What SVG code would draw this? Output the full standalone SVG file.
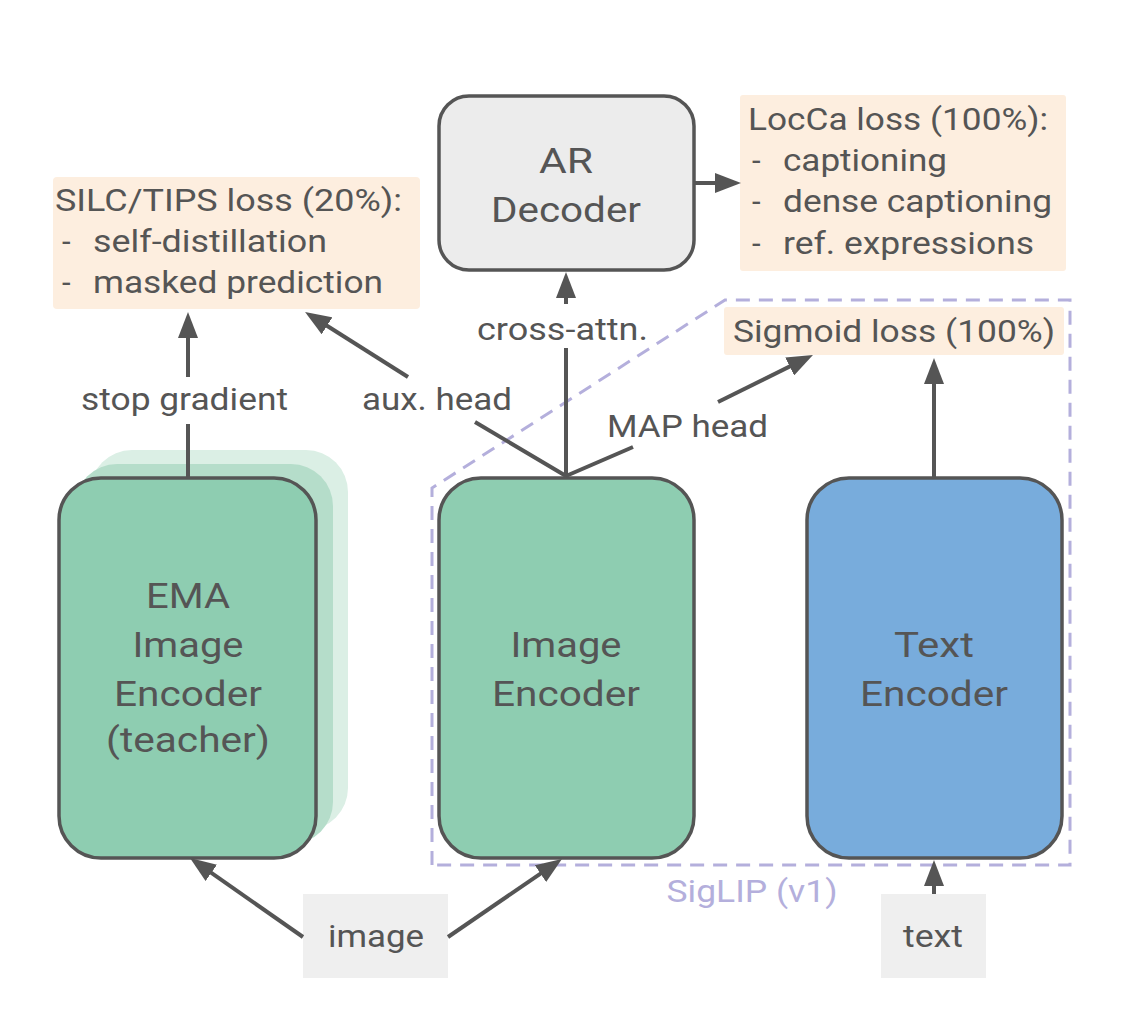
<svg xmlns="http://www.w3.org/2000/svg" width="1142" height="1028" viewBox="0 0 1142 1028">
<style>
  .node { stroke: #555555; stroke-width: 3.5; }
  .green { fill: #8ecdb1; }
  .blue { fill: #78acdc; }
  .gray { fill: #ececec; }
  .nt { font-family: Roboto, "Liberation Sans", sans-serif; font-size: 35px; fill: #555555; text-anchor: middle; }
  .lb { font-family: Roboto, "Liberation Sans", sans-serif; font-size: 31px; fill: #555555; }
  .loss { fill: #fdeedf; }
  .inp { fill: #efefef; }
  .conn { stroke: #555555; stroke-width: 4; fill: none; }
</style>
<defs>
  <marker id="ah" markerUnits="userSpaceOnUse" markerWidth="26" markerHeight="20" viewBox="0 0 26 20" refX="16" refY="10" orient="auto">
    <path d="M0,0 L26,10 L0,20 z" fill="#555555"/>
  </marker>
</defs>
<rect width="1142" height="1028" fill="#ffffff"/>

<!-- SigLIP dashed region -->
<g id="siglip-region">
  <path d="M432,865 L432,488 L725,300 L1070,300 L1070,865 Z" fill="none" stroke="#b4afdc" stroke-width="3" stroke-dasharray="14 9"/>
  <text x="752" y="902" font-family="Roboto, 'Liberation Sans', sans-serif" font-size="31" fill="#b4afdc" text-anchor="middle" textLength="171" lengthAdjust="spacingAndGlyphs">SigLIP (v1)</text>
</g>

<!-- Loss boxes -->
<g id="silc-loss">
  <rect class="loss" x="53" y="177" width="367" height="132" rx="4"/>
  <text class="lb" x="55" y="211" textLength="347" lengthAdjust="spacingAndGlyphs">SILC/TIPS loss (20%):</text>
  <text class="lb" x="62" y="252">-</text>
  <text class="lb" x="93" y="252" textLength="234" lengthAdjust="spacingAndGlyphs">self-distillation</text>
  <text class="lb" x="62" y="293">-</text>
  <text class="lb" x="93" y="293" textLength="290" lengthAdjust="spacingAndGlyphs">masked prediction</text>
</g>

<g id="locca-loss">
  <rect class="loss" x="740" y="95" width="326" height="176" rx="3"/>
  <text class="lb" x="748" y="130" textLength="300" lengthAdjust="spacingAndGlyphs">LocCa loss (100%):</text>
  <text class="lb" x="752" y="171">-</text>
  <text class="lb" x="783" y="171" textLength="164" lengthAdjust="spacingAndGlyphs">captioning</text>
  <text class="lb" x="752" y="212">-</text>
  <text class="lb" x="783" y="212" textLength="269" lengthAdjust="spacingAndGlyphs">dense captioning</text>
  <text class="lb" x="752" y="254">-</text>
  <text class="lb" x="783" y="254" textLength="251" lengthAdjust="spacingAndGlyphs">ref. expressions</text>
</g>

<g id="sigmoid-loss">
  <rect class="loss" x="724" y="307" width="340" height="48" rx="3"/>
  <text class="lb" x="733" y="342" textLength="322" lengthAdjust="spacingAndGlyphs">Sigmoid loss (100%)</text>
</g>

<!-- AR Decoder -->
<g id="ar-decoder">
  <rect class="node gray" x="439" y="96" width="255" height="174" rx="30"/>
  <text class="nt" x="566" y="173" textLength="54" lengthAdjust="spacingAndGlyphs">AR</text>
  <text class="nt" x="566" y="222" textLength="150" lengthAdjust="spacingAndGlyphs">Decoder</text>
</g>

<!-- EMA Image Encoder with stacked copies -->
<g id="ema-encoder">
  <rect x="90" y="450" width="258" height="380" rx="42" fill="#dbefe5"/>
  <rect x="75" y="464" width="258" height="380" rx="42" fill="#b5ddca"/>
  <rect class="node green" x="59" y="478" width="257" height="380" rx="42"/>
  <text class="nt" x="188" y="608" textLength="84" lengthAdjust="spacingAndGlyphs">EMA</text>
  <text class="nt" x="188" y="657" textLength="111" lengthAdjust="spacingAndGlyphs">Image</text>
  <text class="nt" x="188" y="706" textLength="148" lengthAdjust="spacingAndGlyphs">Encoder</text>
  <text class="nt" x="188" y="752" textLength="164" lengthAdjust="spacingAndGlyphs">(teacher)</text>
</g>

<g id="image-encoder">
  <rect class="node green" x="439" y="478" width="255" height="380" rx="42"/>
  <text class="nt" x="566" y="657" textLength="111" lengthAdjust="spacingAndGlyphs">Image</text>
  <text class="nt" x="566" y="706" textLength="148" lengthAdjust="spacingAndGlyphs">Encoder</text>
</g>

<g id="text-encoder">
  <rect class="node blue" x="807" y="478" width="255" height="380" rx="42"/>
  <text class="nt" x="934" y="657" textLength="80" lengthAdjust="spacingAndGlyphs">Text</text>
  <text class="nt" x="934" y="706" textLength="148" lengthAdjust="spacingAndGlyphs">Encoder</text>
</g>

<!-- Inputs -->
<g id="image-input">
  <rect class="inp" x="303" y="894" width="145" height="84"/>
  <text class="lb" x="376" y="947" text-anchor="middle" textLength="96" lengthAdjust="spacingAndGlyphs">image</text>
</g>
<g id="text-input">
  <rect class="inp" x="881" y="894" width="105" height="84"/>
  <text class="lb" x="933" y="947" text-anchor="middle" textLength="60" lengthAdjust="spacingAndGlyphs">text</text>
</g>

<!-- Connectors -->
<g id="connectors">
  <line class="conn" x1="188" y1="478" x2="188" y2="424"/>
  <line class="conn" x1="188" y1="377" x2="188" y2="322" marker-end="url(#ah)"/>
  <text class="lb" x="81" y="410" textLength="207" lengthAdjust="spacingAndGlyphs">stop gradient</text>

  <line class="conn" x1="566" y1="476" x2="475" y2="422"/>
  <line class="conn" x1="408" y1="377" x2="313.5" y2="317.3" marker-end="url(#ah)"/>
  <text class="lb" x="362" y="410" textLength="150" lengthAdjust="spacingAndGlyphs">aux. head</text>

  <line class="conn" x1="566" y1="478" x2="566" y2="348"/>
  <line class="conn" x1="566" y1="304" x2="566" y2="282" marker-end="url(#ah)"/>
  <text class="lb" x="477" y="340" textLength="171" lengthAdjust="spacingAndGlyphs">cross-attn.</text>

  <line class="conn" x1="566" y1="476" x2="633" y2="447"/>
  <line class="conn" x1="718" y1="402" x2="804" y2="359.4" marker-end="url(#ah)"/>
  <text class="lb" x="607" y="437" textLength="161" lengthAdjust="spacingAndGlyphs">MAP head</text>

  <line class="conn" x1="694" y1="183" x2="731" y2="183" marker-end="url(#ah)"/>
  <line class="conn" x1="934" y1="478" x2="934" y2="368" marker-end="url(#ah)"/>
  <line class="conn" x1="934" y1="894" x2="934" y2="870" marker-end="url(#ah)"/>
  <line class="conn" x1="303" y1="937" x2="198.2" y2="863.7" marker-end="url(#ah)"/>
  <line class="conn" x1="448" y1="937" x2="553.7" y2="864.6" marker-end="url(#ah)"/>
</g>
</svg>
